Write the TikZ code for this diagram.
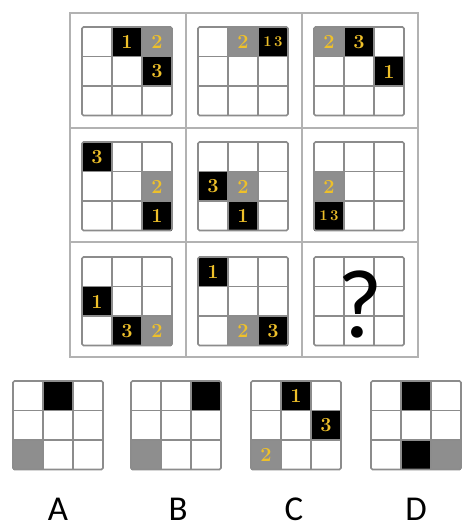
\documentclass[tikz,border=0pt]{standalone}
\usepackage{fontspec}
\newfontfamily\letterfont{Carlito}
\usetikzlibrary{positioning}
\definecolor{PuzFrame}{HTML}{B2B2B2}
\definecolor{PuzLine}{HTML}{8C8C8C}
\definecolor{PuzGray}{HTML}{8E8E8E}
\definecolor{PuzGold}{HTML}{EEC02A}

% one 3x3 mini grid: name, left, top, cells (row/col/fill/label)
\newcommand{\minigrid}[4]{%
  \begin{scope}[shift={(#2,#3)}]
    \foreach \r/\c/\f/\t [count=\k] in {#4} {
      \fill[\f] (\c*30,\r*29.5) rectangle ++(30,29.5);
      \ifx\t\empty\else
        \node[digit] (#1-\k) at (\c*30+15,\r*29.5+15) {\t};
      \fi
    }
    \foreach \i in {1,2} {
      \draw[gridline] (\i*30,0) -- (\i*30,88.5);
      \draw[gridline] (0,\i*29.5) -- (90,\i*29.5);
    }
    \draw[gridline, rounded corners=1.5bp] (0,0) rectangle (90,88.5);
  \end{scope}}

\begin{document}
\begin{tikzpicture}[x=1bp, y=-1bp,
    gridline/.style={PuzLine, line width=1.6bp},
    framebox/.style={PuzFrame, line width=1.6bp},
    digit/.style={text=PuzGold, font=\fontsize{20}{20}\selectfont\bfseries, inner sep=0pt},
    option label/.style={font=\letterfont\fontsize{35}{35}\selectfont, inner sep=0pt,
      text depth=0pt, anchor=base}]
  \useasboundingbox (0,0) rectangle (462,530);

  % outer frame of the 3x3 matrix
  \draw[framebox] (70,13) rectangle (418,357);
  \draw[framebox] (186,13) -- (186,357);
  \draw[framebox] (302,13) -- (302,357);
  \draw[framebox] (70,128) -- (418,128);
  \draw[framebox] (70,242) -- (418,242);

  % first row
  \minigrid{p11}{82}{27}{0/1/black/1, 0/2/PuzGray/2, 1/2/black/3}
  \minigrid{p12}{198}{27}{0/1/PuzGray/2, 0/2/black/{\fontsize{15}{15}\selectfont 1\,3}}
  \minigrid{p13}{314}{27}{0/0/PuzGray/2, 0/1/black/3, 1/2/black/1}
  % second row
  \minigrid{p21}{82}{142}{0/0/black/3, 1/2/PuzGray/2, 2/2/black/1}
  \minigrid{p22}{198}{142}{1/0/black/3, 1/1/PuzGray/2, 2/1/black/1}
  \minigrid{p23}{314}{142}{1/0/PuzGray/2, 2/0/black/{\fontsize{15}{15}\selectfont 1\,3}}
  % third row
  \minigrid{p31}{82}{257}{1/0/black/1, 2/1/black/3, 2/2/PuzGray/2}
  \minigrid{p32}{198}{257}{0/0/black/1, 2/1/PuzGray/2, 2/2/black/3}
  \minigrid{p33}{314}{257}{}
  \node[font=\letterfont\fontsize{98}{98}\selectfont, inner sep=0pt] (ask) at (360,304) {?};

  % answer options
  \minigrid{optA}{13}{381}{0/1/black/, 2/0/PuzGray/}
  \minigrid{optB}{131}{381}{0/2/black/, 2/0/PuzGray/}
  \minigrid{optC}{251}{381}{0/1/black/1, 1/2/black/3, 2/0/PuzGray/2}
  \minigrid{optD}{371}{381}{0/1/black/, 2/1/black/, 2/2/PuzGray/}

  \node[option label] (labA) at (58,520) {A};
  \node[option label] (labB) at (178,520) {B};
  \node[option label] (labC) at (294,520) {C};
  \node[option label] (labD) at (416,520) {D};
\end{tikzpicture}
\end{document}
